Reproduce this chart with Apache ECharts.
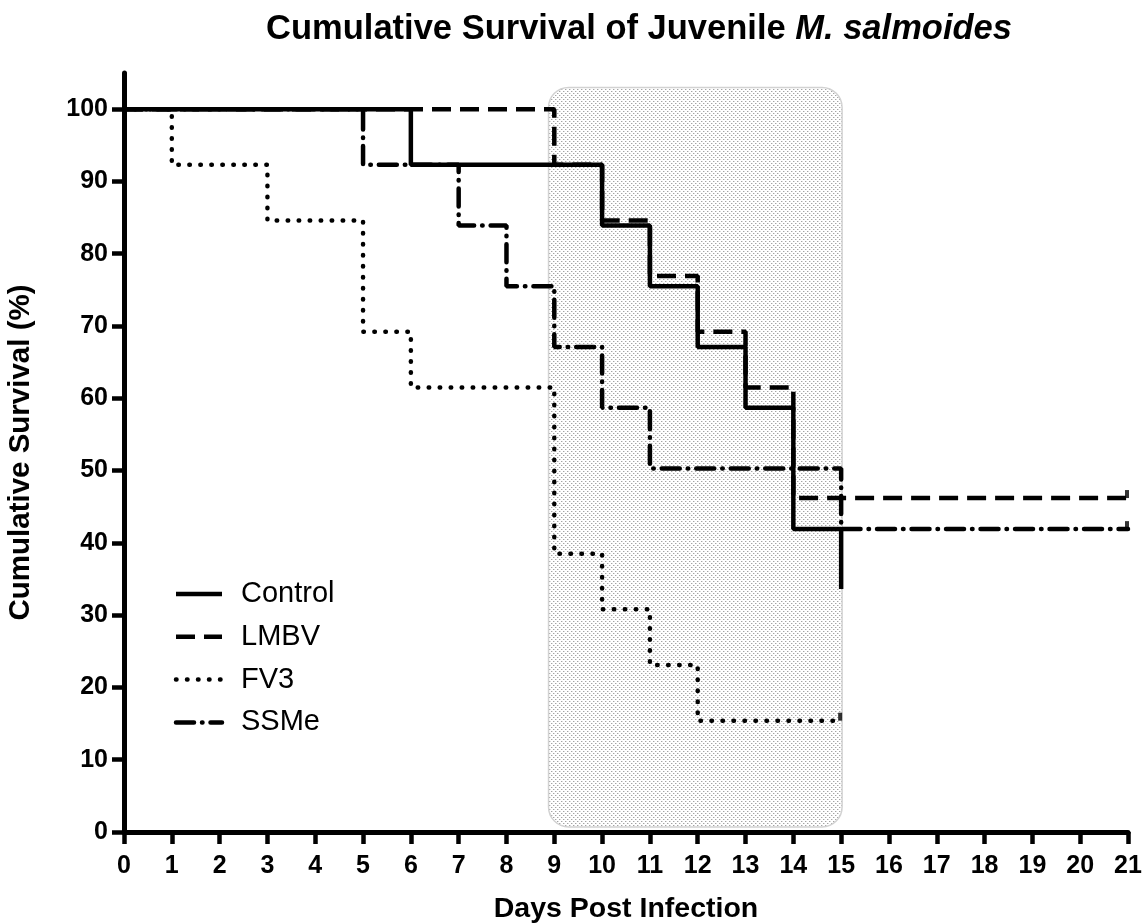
<!DOCTYPE html>
<html>
<head>
<meta charset="utf-8">
<title>Cumulative Survival of Juvenile M. salmoides</title>
<script src="https://cdn.jsdelivr.net/npm/echarts@6/dist/echarts.min.js"></script>
<style>
  html, body { margin: 0; padding: 0; background: #ffffff; }
  #chart { width: 1143px; height: 924px; }
</style>
</head>
<body>
<div id="chart"></div>
<script>
// Kaplan-Meier survival steps (day of change, survival % from that day on)
const seriesNames = ['Control', 'LMBV', 'FV3', 'SSMe'];

const controlDays = [0, 6, 10, 11, 12, 13, 14, 15];
const controlSurv = [100, 92.3, 83.9, 75.5, 67.1, 58.7, 41.9, 33.6];

const lmbvDays = [0, 9, 10, 11, 12, 13, 14, 21];
const lmbvSurv = [100, 92.3, 84.6, 76.9, 69.2, 61.5, 46.2, 46.2];

const fv3Days = [0, 1, 3, 5, 6, 9, 10, 11, 12, 15];
const fv3Surv = [100, 92.3, 84.6, 69.2, 61.5, 38.5, 30.8, 23.1, 15.4, 15.4];

const ssmeDays = [0, 5, 7, 8, 9, 10, 11, 15, 21];
const ssmeSurv = [100, 92.3, 83.9, 75.5, 67.1, 58.7, 50.3, 41.9, 41.9];

// censored observations at the end of follow-up
const censorDays = [21, 15, 21];
const censorSurv = [46.2, 15.4, 41.9];

// axis ticks
const xTicks = [0, 1, 2, 3, 4, 5, 6, 7, 8, 9, 10, 11, 12, 13, 14, 15, 16, 17, 18, 19, 20, 21];
const yTicks = [0, 10, 20, 30, 40, 50, 60, 70, 80, 90, 100];

// shaded window (days 9-15) drawn behind the curves
const windowX = [8.88, 15.02];
const windowY = [0.7, 103];

const FONT = '"Liberation Sans", Arial, Helvetica, sans-serif';
const toPairs = (xs, ys) => xs.map((x, i) => [x, ys[i]]);

const lineStyles = [
  { width: 4.5, type: 'solid', cap: 'butt' },
  { width: 4.5, type: [19, 9], cap: 'butt' },
  { width: 4.5, type: [0.5, 10.5], cap: 'round' },
  { width: 4.5, type: [18, 8, 0.5, 8], cap: 'round' }
];
const curveData = [
  toPairs(controlDays, controlSurv),
  toPairs(lmbvDays, lmbvSurv),
  toPairs(fv3Days, fv3Surv),
  toPairs(ssmeDays, ssmeSurv)
];

const series = seriesNames.map((name, i) => ({
  name: name,
  type: 'line',
  step: 'end',
  data: curveData[i],
  symbol: 'none',
  showSymbol: false,
  silent: true,
  z: 5 + (3 - i),
  lineStyle: Object.assign({ color: '#000000' }, lineStyles[i]),
  itemStyle: { color: '#000000' }
}));

series.push({
  name: 'censored',
  type: 'scatter',
  data: toPairs(censorDays, censorSurv),
  symbol: 'rect',
  symbolSize: [4, 8],
  symbolOffset: [-1, -4],
  itemStyle: { color: '#000000' },
  silent: true,
  z: 9
});

const chart = echarts.init(document.getElementById('chart'), null, { renderer: 'canvas' });

chart.setOption({
  animation: false,
  backgroundColor: '#ffffff',
  title: {
    text: '{b|Cumulative Survival of Juvenile }{i|M. salmoides}',
    left: 634,
    top: 7,
    textAlign: 'center',
    textStyle: {
      rich: {
        b: { fontFamily: FONT, fontSize: 34.5, fontWeight: 'bold', color: '#000' },
        i: { fontFamily: FONT, fontSize: 34.5, fontWeight: 'bold', fontStyle: 'italic', color: '#000' }
      }
    }
  },
  grid: { left: 124, right: 15, top: 73, bottom: 92, containLabel: false, outerBoundsMode: 'none' },
  xAxis: {
    type: 'value',
    min: 0,
    max: 21,
    interval: 1,
    name: 'Days Post Infection',
    nameLocation: 'middle',
    nameGap: 63,
    nameTextStyle: { fontFamily: FONT, fontSize: 28.5, fontWeight: 'bold', color: '#000' },
    axisLine: { show: true, onZero: false, lineStyle: { color: '#000', width: 5 } },
    axisTick: { show: true, inside: false, length: 12, lineStyle: { color: '#000', width: 4.5 } },
    axisLabel: {
      fontFamily: FONT, fontSize: 25, fontWeight: 'bold', color: '#000', margin: 22,
      customValues: xTicks
    },
    splitLine: { show: false }
  },
  yAxis: {
    type: 'value',
    min: 0,
    max: 105,
    interval: 10,
    name: 'Cumulative Survival (%)',
    nameLocation: 'middle',
    nameGap: 88,
    nameRotate: 90,
    nameTextStyle: { fontFamily: FONT, fontSize: 29.5, fontWeight: 'bold', color: '#000' },
    axisLine: { show: true, onZero: false, lineStyle: { color: '#000', width: 5 } },
    axisTick: {
      show: true, inside: false, length: 12, lineStyle: { color: '#000', width: 4.5 },
      customValues: yTicks
    },
    axisLabel: {
      fontFamily: FONT, fontSize: 25, fontWeight: 'bold', color: '#000', margin: 16,
      customValues: yTicks
    },
    splitLine: { show: false }
  },
  series: series
});

// stippled fill for the shaded window: sparse grey dots on white
function dotPattern() {
  const c = document.createElement('canvas');
  c.width = 4; c.height = 4;
  const ctx = c.getContext('2d');
  ctx.fillStyle = '#ffffff';
  ctx.fillRect(0, 0, 4, 4);
  ctx.fillStyle = '#a4a4a4';
  ctx.fillRect(1, 1, 1, 1);
  ctx.fillRect(3, 3, 1, 1);
  ctx.fillStyle = '#dcdcdc';
  ctx.fillRect(2, 1, 1, 1);
  ctx.fillRect(0, 3, 1, 1);
  return c;
}

const p0 = chart.convertToPixel({ gridIndex: 0 }, [windowX[0], windowY[1]]);
const p1 = chart.convertToPixel({ gridIndex: 0 }, [windowX[1], windowY[0]]);

const graphics = [{
  type: 'rect',
  silent: true,
  z: 1,
  shape: { x: p0[0], y: p0[1], width: p1[0] - p0[0], height: p1[1] - p0[1], r: 20 },
  style: {
    fill: { image: dotPattern(), repeat: 'repeat' },
    stroke: '#d2d2d2',
    lineWidth: 1.5
  }
}];

// key: line sample plus series name, one row per curve
const keyLeft = 176, keyTop = 594, keyRow = 42.8, keyLen = 46, keyTextX = 241;
seriesNames.forEach((name, i) => {
  const y = keyTop + keyRow * i;
  const ls = lineStyles[i];
  graphics.push({
    type: 'line',
    silent: true,
    z: 20,
    shape: { x1: keyLeft, y1: y, x2: keyLeft + keyLen, y2: y },
    style: {
      stroke: '#000',
      lineWidth: ls.width,
      lineDash: Array.isArray(ls.type) ? ls.type : null,
      lineCap: ls.cap
    }
  });
  graphics.push({
    type: 'text',
    silent: true,
    z: 20,
    x: keyTextX,
    y: y,
    style: {
      text: name,
      fontFamily: FONT,
      fontSize: 29,
      fill: '#000',
      align: 'left',
      verticalAlign: 'middle'
    }
  });
});

chart.setOption({ graphic: graphics });
</script>
</body>
</html>
